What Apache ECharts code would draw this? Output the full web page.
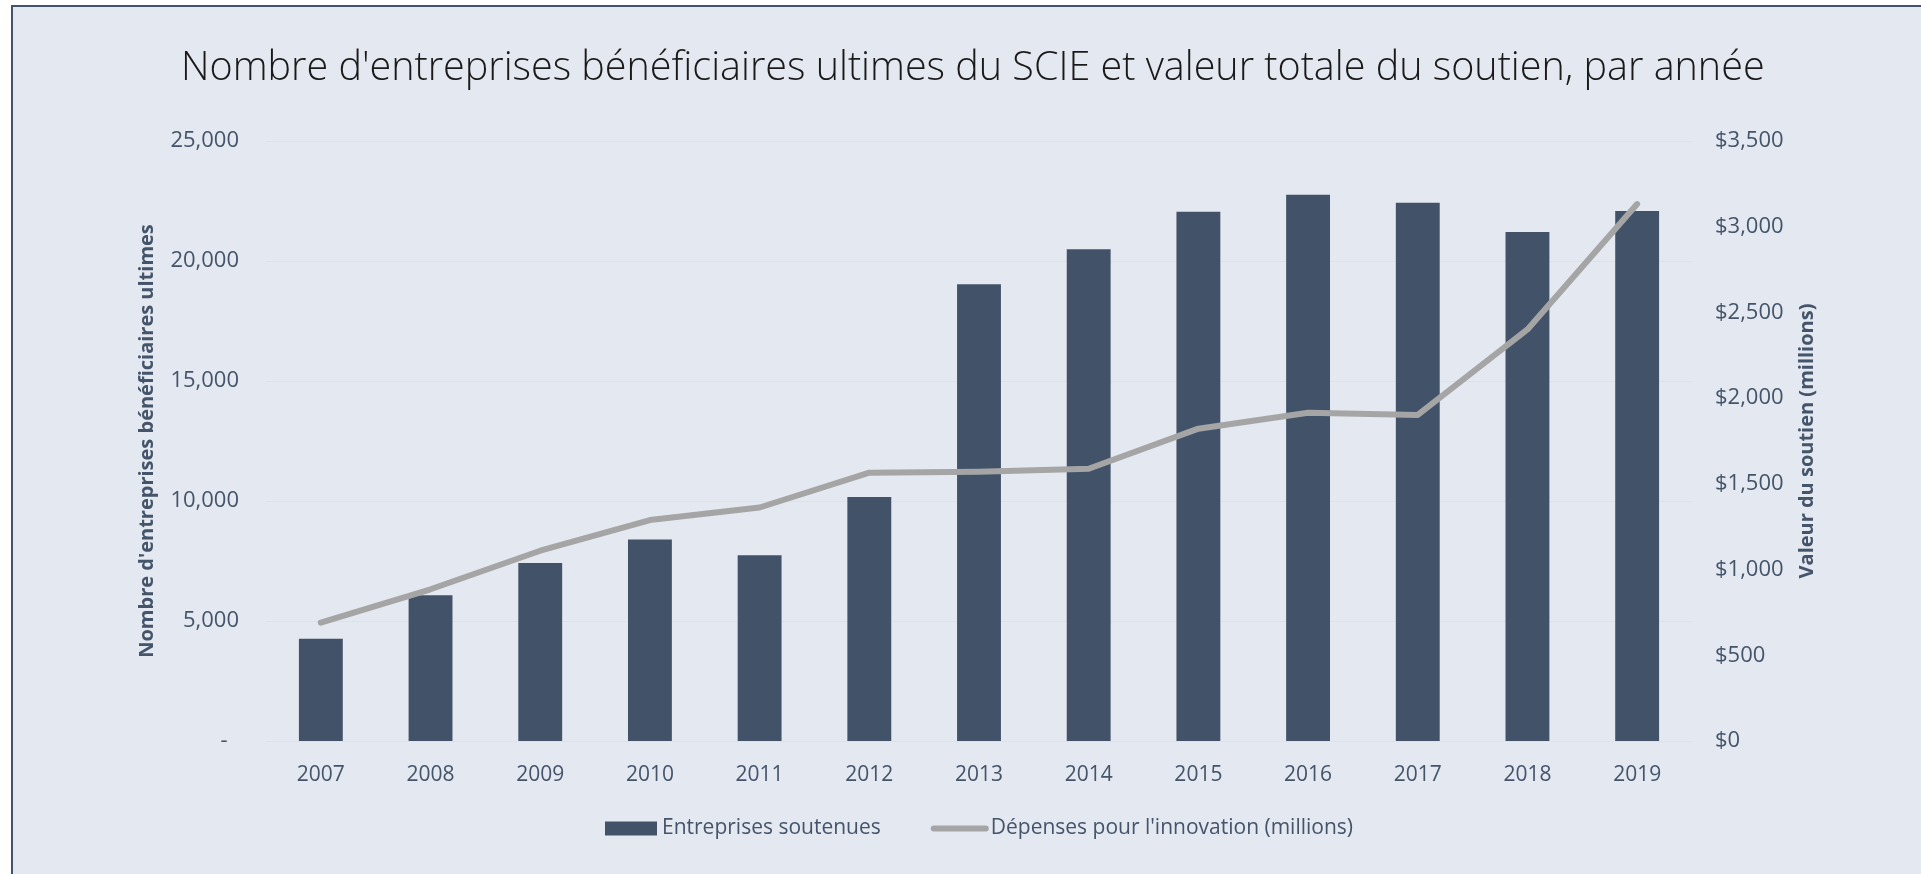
<!DOCTYPE html>
<html>
<head>
<meta charset="utf-8">
<title>SCIE</title>
<script src="https://cdn.jsdelivr.net/npm/echarts@6/dist/echarts.min.js"></script>
<style>
    html, body { margin: 0; padding: 0; background: #ffffff; overflow: hidden; }
    #frame { position: absolute; left: 11px; top: 5px; width: 2000px; height: 1000px;
             border: 2px solid #46536a; background: #e4e8f0; }
    #chart { position: absolute; left: 0; top: 0; width: 1921px; height: 874px; }
</style>
</head>
<body>
<div id="frame"></div>
<div id="chart"></div>
<script>
// Data
const years = ["2007", "2008", "2009", "2010", "2011", "2012", "2013",
               "2014", "2015", "2016", "2017", "2018", "2019"];
const entreprises = [4260, 6070, 7420, 8400, 7740, 10170, 19030,
                     20490, 22050, 22760, 22430, 21210, 22080];
const depenses = [690, 885, 1110, 1289, 1362, 1565, 1571,
                  1588, 1822, 1915, 1902, 2401, 3132];

const labelColor = "#44546a";
const fontFamily = "'Open Sans', 'Noto Sans', sans-serif";

function fmtNumber(v) {
    return v.toString().replace(/\B(?=(\d{3})+(?!\d))/g, ",");
}

var chart = echarts.init(document.getElementById("chart"), null, { renderer: "canvas" });

var option = {
    backgroundColor: "transparent",
    textStyle: { fontFamily: fontFamily },
    title: {
        text: "Nombre d'entreprises bénéficiaires ultimes du SCIE et valeur totale du soutien, par année",
        left: 181,
        top: 44,
        padding: [5, 0, 5, 0],
        textStyle: { fontFamily: fontFamily, fontWeight: 300, fontSize: 39.5, color: "#1a1a1a" }
    },
    grid: { left: 266, right: 229, top: 141, bottom: 133 },
    legend: {
        left: 600,
        top: 813,
        itemWidth: 52,
        itemHeight: 14,
        itemGap: 50,
        textStyle: { color: labelColor, fontSize: 21, fontFamily: fontFamily },
        data: [
            { name: "Entreprises soutenues", icon: "rect" },
            {
                name: "Dépenses pour l'innovation (millions)",
                lineStyle: { width: 6, cap: "round", color: "#a5a5a5" },
                itemStyle: { opacity: 0 }
            }
        ]
    },
    xAxis: {
        type: "category",
        data: years,
        axisLine: { show: false },
        axisTick: { show: false },
        axisLabel: { color: labelColor, fontSize: 21, margin: 24 }
    },
    yAxis: [
        {
            type: "value",
            min: 0,
            max: 25000,
            interval: 5000,
            name: "Nombre d'entreprises bénéficiaires ultimes",
            nameLocation: "middle",
            nameRotate: 90,
            nameGap: 109,
            nameTextStyle: { color: labelColor, fontSize: 20, fontWeight: "bold" },
            axisLine: { show: false },
            axisTick: { show: false },
            axisLabel: {
                color: labelColor, fontSize: 22, margin: 27,
                formatter: function (v) { return v === 0 ? "-  " : fmtNumber(v); }
            },
            splitLine: { lineStyle: { color: "#dde1e9", width: 1 } }
        },
        {
            type: "value",
            min: 0,
            max: 3500,
            interval: 500,
            position: "right",
            name: "Valeur du soutien (millions)",
            nameLocation: "middle",
            nameRotate: 90,
            nameGap: 105,
            nameTextStyle: { color: labelColor, fontSize: 20, fontWeight: "bold" },
            axisLine: { show: false },
            axisTick: { show: false },
            axisLabel: {
                color: labelColor, fontSize: 22, margin: 23,
                formatter: function (v) { return "$" + fmtNumber(v); }
            },
            splitLine: { show: false }
        }
    ],
    series: [
        {
            name: "Entreprises soutenues",
            type: "bar",
            data: entreprises,
            yAxisIndex: 0,
            barCategoryGap: "60%",
            itemStyle: { color: "#425369" }
        },
        {
            name: "Dépenses pour l'innovation (millions)",
            type: "line",
            data: depenses,
            yAxisIndex: 1,
            symbol: "none",
            lineStyle: { color: "#a5a5a5", width: 6, cap: "round", join: "round" },
            itemStyle: { color: "#a5a5a5" }
        }
    ]
};

chart.setOption(option);
</script>
</body>
</html>
